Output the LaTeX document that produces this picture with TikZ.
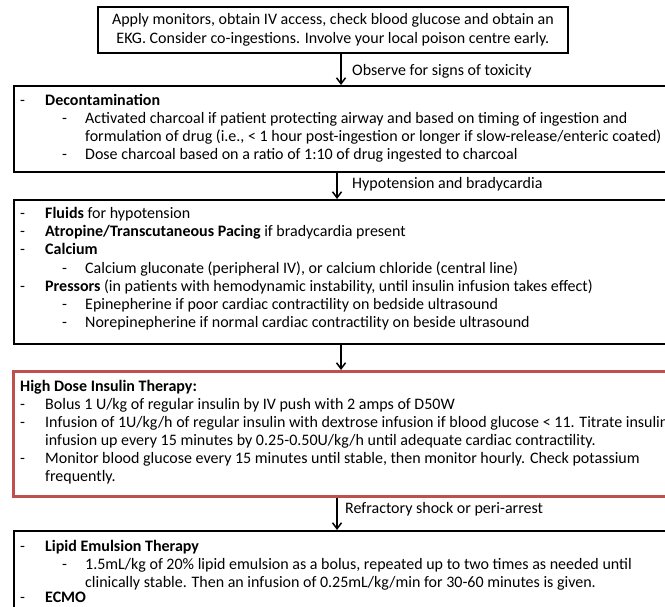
\documentclass[tikz,border=0pt]{standalone}
\usepackage{fontspec}
\setmainfont{Carlito}
\usetikzlibrary{arrows.meta}
\definecolor{boxred}{RGB}{192,80,77}
\tikzset{
  blackbox/.style={draw=black, line width=1.8pt, fill=white, inner sep=0pt, anchor=north west},
  redbox/.style={draw=boxred, line width=3pt, fill=white, inner sep=0pt, anchor=north west},
  ln/.style={anchor=base west, inner sep=0pt, font=\fontsize{16}{18}\selectfont},
  lbl/.style={anchor=west, inner sep=0pt, font=\fontsize{16}{18}\selectfont},
  arr/.style={line width=1.5pt, -{Straight Barb[length=6pt,width=9pt,line width=1.5pt]}},
}
\begin{document}
\begin{tikzpicture}[x=1pt,y=-1pt]
\useasboundingbox (0,0) rectangle (665,607);
\clip (0,0) rectangle (665,607);
% boxes
\node[blackbox, minimum width=470, minimum height=46, align=center,
      font=\fontsize{16}{19}\selectfont] (b1) at (97,6)
  {Apply monitors, obtain IV access, check blood glucose and obtain an\\EKG. Consider co-ingestions. Involve your local poison centre early.};
\node[blackbox, minimum width=700, minimum height=86] (b2) at (13,85) {};
\node[blackbox, minimum width=700, minimum height=144] (b3) at (13,199) {};
\node[redbox, minimum width=700, minimum height=125] (b4) at (12,370) {};
\node[blackbox, minimum width=700, minimum height=120] (b5) at (13,530) {};
% arrow x positions
\coordinate (xa) at (341,0);
\coordinate (xb) at (337,0);
\draw[arr] (b1.south -| xa) -- (b2.north -| xa);
\draw[arr] (b2.south -| xb) -- (b3.north -| xb);
\draw[arr] (b3.south -| xa) -- (b4.north -| xa);
\draw[arr] (b4.south -| xb) -- (b5.north -| xb);
\node[lbl] (l1) at (352,71) {Observe for signs of toxicity};
\node[lbl] (l2) at (352,184) {Hypotension and bradycardia};
\node[lbl] (l4) at (345,509) {Refractory shock or peri-arrest};
% box 2 text
\node[ln] (d1) at (20,106) {-};
\node[ln] (t1) at (45,106) {\textbf{Decontamination}};
\node[ln] (d2) at (62,124) {-};
\node[ln] (t2) at (85,124) {Activated charcoal if patient protecting airway and based on timing of ingestion and};
\node[ln] (t3) at (85,142) {formulation of drug (i.e., < 1 hour post-ingestion or longer if slow-release/enteric coated)};
\node[ln] (d3) at (62,160) {-};
\node[ln] (t4) at (85,160) {Dose charcoal based on a ratio of 1:10 of drug ingested to charcoal};
% box 3 text
\node[ln] (e1) at (20,219) {-};
\node[ln] (u1) at (45,219) {\textbf{Fluids} for hypotension};
\node[ln] (e2) at (20,237) {-};
\node[ln] (u2) at (45,237) {\textbf{Atropine/Transcutaneous Pacing} if bradycardia present};
\node[ln] (e3) at (20,255) {-};
\node[ln] (u3) at (45,255) {\textbf{Calcium}};
\node[ln] (e4) at (62,273) {-};
\node[ln] (u4) at (85,273) {Calcium gluconate (peripheral IV), or calcium chloride (central line)};
\node[ln] (e5) at (20,291) {-};
\node[ln] (u5) at (45,291) {\textbf{Pressors} (in patients with hemodynamic instability, until insulin infusion takes effect)};
\node[ln] (e6) at (62,309) {-};
\node[ln] (u6) at (85,309) {Epinepherine if poor cardiac contractility on bedside ultrasound};
\node[ln] (e7) at (62,327) {-};
\node[ln] (u7) at (85,327) {Norepinepherine if normal cardiac contractility on beside ultrasound};
% box 4 text
\node[ln] (v0) at (20,391) {\textbf{High Dose Insulin Therapy:}};
\node[ln] (f1) at (20,409) {-};
\node[ln] (v1) at (45,409) {Bolus 1 U/kg of regular insulin by IV push with 2 amps of D50W};
\node[ln] (f2) at (20,427) {-};
\node[ln] (v2) at (45,427) {Infusion of 1U/kg/h of regular insulin with dextrose infusion if blood glucose < 11. Titrate insulin};
\node[ln] (v3) at (45,445) {infusion up every 15 minutes by 0.25-0.50U/kg/h until adequate cardiac contractility.};
\node[ln] (f3) at (20,463) {-};
\node[ln] (v4) at (45,463) {Monitor blood glucose every 15 minutes until stable, then monitor hourly. Check potassium};
\node[ln] (v5) at (45,481) {frequently.};
% box 5 text
\node[ln] (g1) at (20,551) {-};
\node[ln] (w1) at (45,551) {\textbf{Lipid Emulsion Therapy}};
\node[ln] (g2) at (62,569) {-};
\node[ln] (w2) at (85,569) {1.5mL/kg of 20\% lipid emulsion as a bolus, repeated up to two times as needed until};
\node[ln] (w3) at (85,587) {clinically stable. Then an infusion of 0.25mL/kg/min for 30-60 minutes is given.};
\node[ln] (g3) at (20,602) {-};
\node[ln] (w4) at (45,602) {\textbf{ECMO}};
\end{tikzpicture}
\end{document}
